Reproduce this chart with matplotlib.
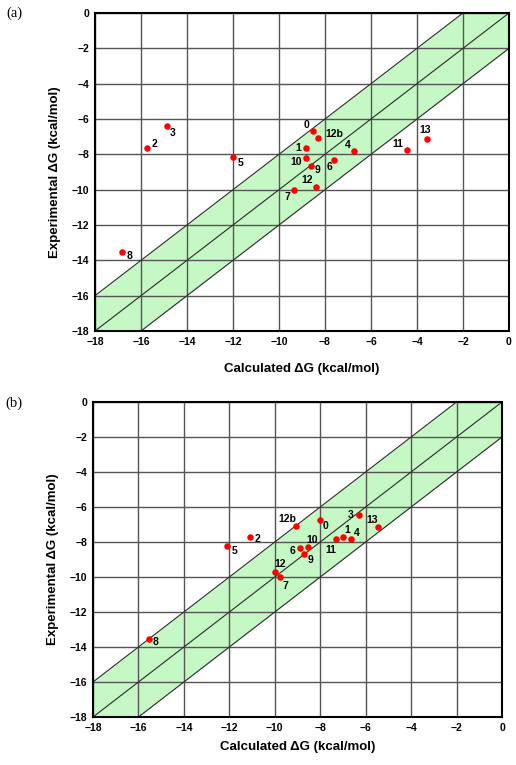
import numpy as np
import matplotlib
matplotlib.use("Agg")
import matplotlib.pyplot as plt

# ---------------------
# Data
# ---------------------
labels_a = ["0", "12b", "1", "4", "11", "13", "10", "9", "6", "12", "7", "3", "2", "5", "8"]
calc_a = [-8.51, -8.30, -8.84, -6.72, -4.43, -3.58, -8.83, -8.62, -7.60, -8.40, -9.35, -14.88, -15.75, -11.99, -16.83]
expt_a = [-6.69, -7.05, -7.65, -7.80, -7.77, -7.12, -8.22, -8.66, -8.33, -9.87, -10.00, -6.42, -7.65, -8.14, -13.54]
# label offsets (pixels, dx right, dy up)
offs_a = [(-7, 6), (16, 4), (-7, 0), (-7, 6), (-9, 6), (-2, 9), (-10, -4), (7, -4), (-5, -7),
          (-9, 7), (-7, -7), (6, -7), (8, 4), (7, -6), (8, -4)]

labels_b = ["12b", "0", "3", "13", "2", "5", "1", "4", "11", "10", "6", "9", "12", "7", "8"]
calc_b = [-9.07, -8.02, -6.31, -5.46, -11.10, -12.09, -6.98, -6.64, -7.30, -8.54, -8.90, -8.71, -9.99, -9.78, -15.55]
expt_b = [-7.09, -6.72, -6.44, -7.16, -7.70, -8.25, -7.70, -7.85, -7.81, -8.29, -8.36, -8.69, -9.70, -10.02, -13.52]
offs_b = [(-9, 7), (6, -6), (-8, 0), (-6, 7), (8, -2), (7, -5), (4, 7), (6, 6), (-5, -11),
          (4, 7), (-7, -3), (6, -6), (5, 8), (6, -9), (7, -3)]

ticks = list(range(-18, 1, 2))
band = 2.0

plt.rcParams['font.family'] = ['Liberation Sans', 'DejaVu Sans']


def draw_panel(ax, calc, expt, labels, offs, xpad):
    xs = np.array([-18.0, 0.0])
    ax.fill_between(xs, xs - band, xs + band, color="#c6f8c6", zorder=0, lw=0)
    for d in (-band, 0, band):
        ax.plot(xs, xs + d, color="#2a2a2a", lw=0.8, zorder=2)
    ax.set_xlim(-18, 0)
    ax.set_ylim(-18, 0)
    ax.set_xticks(ticks)
    ax.set_yticks(ticks)
    ax.grid(True, color="#555555", lw=1.0, zorder=1)
    ax.set_axisbelow(True)
    ax.tick_params(length=0, pad=4, labelsize=7.5)
    for lab in ax.get_xticklabels() + ax.get_yticklabels():
        lab.set_fontweight("bold")
    for sp in ax.spines.values():
        sp.set_linewidth(1.5)
        sp.set_zorder(5)
    ax.scatter(calc, expt, s=22, color="#ff0000", zorder=4, linewidths=0)
    for x, y, t, (dx, dy) in zip(calc, expt, labels, offs):
        ax.annotate(t, (x, y), xytext=(dx, dy), textcoords="offset pixels",
                    ha="center", va="center", fontsize=7.5, fontweight="bold", zorder=6)
    ax.set_xlabel("Calculated \u0394G (kcal/mol)", fontsize=9.5, fontweight="bold", labelpad=xpad)
    ax.set_ylabel("Experimental \u0394G (kcal/mol)", fontsize=9.5, fontweight="bold", labelpad=8)


fig = plt.figure(figsize=(5.16, 7.65), dpi=100)
ax_a = fig.add_axes([95 / 516, 1 - 331 / 765, 414 / 516, 318 / 765])
ax_b = fig.add_axes([93 / 516, 1 - 717 / 765, 409 / 516, 315 / 765])

draw_panel(ax_a, calc_a, expt_a, labels_a, offs_a, xpad=12)
draw_panel(ax_b, calc_b, expt_b, labels_b, offs_b, xpad=6)

fig.text(6 / 516, 1 - 13 / 765, "(a)", family="Liberation Serif", fontsize=10.5, va="center")
fig.text(5 / 516, 1 - 403 / 765, "(b)", family="Liberation Serif", fontsize=10.5, va="center")

fig.savefig("out.png", dpi=100)
